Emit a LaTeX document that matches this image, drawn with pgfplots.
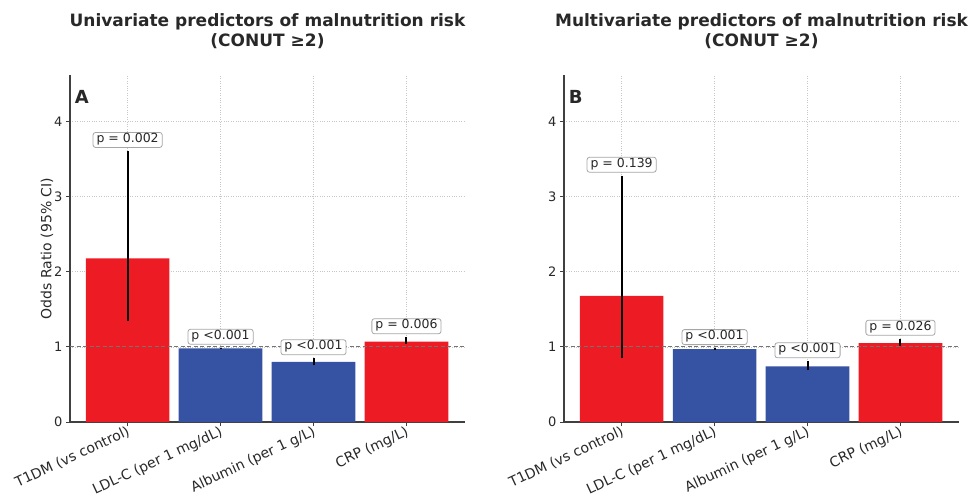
\documentclass[border=0pt]{standalone}
\usepackage{pgfplots}
\pgfplotsset{compat=1.18}
\usepackage{fontspec}
\setmainfont{DejaVu Sans}
\definecolor{barred}{RGB}{237,28,36}
\definecolor{barblue}{RGB}{54,82,163}
\definecolor{txt}{RGB}{40,40,40}
\pgfplotsset{
 panel/.style={
  scale only axis, width=395pt, height=347pt,
  xmin=-0.62, xmax=3.63, ymin=0, ymax=4.62,
  axis x line*=bottom, axis y line*=left,
  axis line style={line width=1.1pt, color=black!75},
  xtick={0,1,2,3},
  xticklabels={T1DM (vs control), LDL-C (per 1 mg/dL), Albumin (per 1 g/L), CRP (mg/L)},
  x tick label style={rotate=25, anchor=north east, font=\fontsize{14}{16}\selectfont, inner sep=1pt, yshift=2.5pt, text=txt},
  ytick={0,1,2,3,4},
  y tick label style={font=\fontsize{13}{15}\selectfont, text=txt},
  tick align=outside, major tick length=4pt, tick style={black!75, line width=0.8pt},
  grid=major, major grid style={dotted, black!22, line width=0.6pt},
  /pgf/number format/assume math mode=true,
  title style={font=\bfseries\fontsize{17}{20}\selectfont, align=center, at={(0.5,1)}, anchor=south, yshift=17pt, text=txt},
  ylabel style={font=\fontsize{14}{16}\selectfont, at={(rel axis cs:0,0.5)}, yshift=23pt, anchor=center, text=txt},
 },
 bars/.style={ybar, bar width=0.9, bar shift=0pt, draw=none, fill=#1,
  error bars/.cd, y dir=both, y explicit, error mark=none,
  error bar style={line width=2pt, black, solid}},
 refline/.style={dashed, dash pattern=on 4pt off 2.5pt, black!55, line width=0.9pt, forget plot},
}
\tikzset{
 plab/.style={anchor=south, yshift=3pt, draw=black!35, line width=0.8pt, fill=white, rounded corners=2.5pt,
  inner xsep=3.5pt, inner ysep=2.5pt, text height=0.76em, text depth=0.24em, text=txt,
  font=\fontsize{12.5}{14}\selectfont},
}
\begin{document}
\begin{tikzpicture}
\path[use as bounding box] (0,0) rectangle (971pt,496pt);
\begin{axis}[panel, at={(70pt,74pt)}, anchor=south west,
  title={Univariate predictors of malnutrition risk\\(CONUT ≥2)},
  ylabel={Odds Ratio (95\% CI)}]
\addplot[bars=barred] coordinates {
 (0,2.18) += (0,1.43) -= (0,0.84)
 (3,1.07) += (0,0.06) -= (0,0.03)
};
\addplot[bars=barblue] coordinates {
 (1,0.98) += (0,0.01) -= (0,0.01)
 (2,0.80) += (0,0.05) -= (0,0.045)
};
\addplot[refline] coordinates {(-0.62,1) (3.63,1)};
\node[plab] at (axis cs:0,3.61) {p = 0.002};
\node[plab] at (axis cs:1,0.99) {p <0.001};
\node[plab] at (axis cs:2,0.85) {p <0.001};
\node[plab] at (axis cs:3,1.13) {p = 0.006};
\node[anchor=north west, inner sep=0pt, font=\bfseries\fontsize{18}{20}\selectfont, text=txt] at (rel axis cs:0.012,0.955) {A};
\end{axis}
\begin{axis}[panel, at={(564pt,74pt)}, anchor=south west,
  title={Multivariate predictors of malnutrition risk\\(CONUT ≥2)},
  yticklabel={}]
\addplot[bars=barred] coordinates {
 (0,1.68) += (0,1.60) -= (0,0.83)
 (3,1.05) += (0,0.06) -= (0,0.04)
};
\addplot[bars=barblue] coordinates {
 (1,0.97) += (0,0.015) -= (0,0.01)
 (2,0.74) += (0,0.07) -= (0,0.05)
};
\addplot[refline] coordinates {(-0.62,1) (3.63,1)};
\node[plab] at (axis cs:0,3.28) {p = 0.139};
\node[plab] at (axis cs:1,0.985) {p <0.001};
\node[plab] at (axis cs:2,0.81) {p <0.001};
\node[plab] at (axis cs:3,1.11) {p = 0.026};
\node[anchor=north west, inner sep=0pt, font=\bfseries\fontsize{18}{20}\selectfont, text=txt] at (rel axis cs:0.012,0.955) {B};
\end{axis}
\end{tikzpicture}
\end{document}
